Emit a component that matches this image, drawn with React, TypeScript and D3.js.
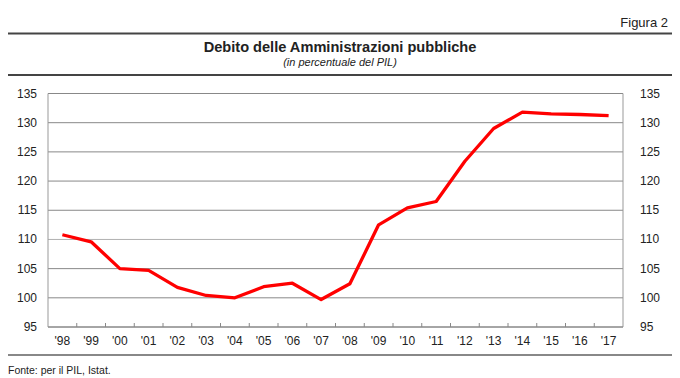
import React from "react";
import * as d3 from "d3";

const years = ["'98","'99","'00","'01","'02","'03","'04","'05","'06","'07","'08","'09","'10","'11","'12","'13","'14","'15","'16","'17"];
const debt = [110.8,109.6,105.0,104.7,101.8,100.4,100.0,101.9,102.5,99.7,102.4,112.5,115.4,116.5,123.4,129.0,131.8,131.5,131.4,131.2];
const yTicks = [95,100,105,110,115,120,125,130,135];

const W = 680, H = 378;
const M = { left: 48, right: 623, top: 93.5, bottom: 327 };
const FONT = "'Liberation Sans', Arial, sans-serif";

export default function App() {
  const x = d3.scaleBand<string>().domain(years).range([M.left, M.right]);
  const y = d3.scaleLinear().domain([95, 135]).range([M.bottom, M.top]);
  const line = d3.line<number>()
    .x((_, i) => (x(years[i]) as number) + x.bandwidth() / 2)
    .y((d) => y(d));
  const bounds = years.map((yr) => x(yr) as number).slice(1);

  return (
    <svg width={W} height={H} style={{ position: "absolute", left: 0, top: 0, background: "#fff" }} fontFamily={FONT}>
      <text x={668} y={27} textAnchor="end" fontSize={13} fill="#222">Figura 2</text>
      <line x1={8} x2={672} y1={33.5} y2={33.5} stroke="#444" strokeWidth={2} />
      <text x={340} y={52} textAnchor="middle" fontSize={14.6} fontWeight="bold" fill="#222">Debito delle Amministrazioni pubbliche</text>
      <text x={340} y={66} textAnchor="middle" fontSize={11} fontStyle="italic" fill="#222">(in percentuale del PIL)</text>
      <line x1={8} x2={672} y1={75} y2={75} stroke="#444" strokeWidth={2} />

      {yTicks.map((t) => (
        <g key={t}>
          <line x1={M.left} x2={M.right} y1={y(t)} y2={y(t)} stroke={t === 110 ? "#b0b0b0" : "#888"} strokeWidth={1} />
          <text x={37} y={y(t) + 4} textAnchor="end" fontSize={12} fill="#222">{t}</text>
          <text x={640} y={y(t) + 4} textAnchor="start" fontSize={12} fill="#222">{t}</text>
        </g>
      ))}
      <line x1={M.left} x2={M.left} y1={M.top} y2={M.bottom} stroke="#999" strokeWidth={1} />
      <line x1={M.right} x2={M.right} y1={M.top} y2={M.bottom} stroke="#999" strokeWidth={1} />
      <line x1={M.left} x2={M.right} y1={M.bottom} y2={M.bottom} stroke="#888" strokeWidth={1} />
      {bounds.map((b, i) => (
        <line key={i} x1={b} x2={b} y1={M.bottom} y2={M.bottom - 4} stroke="#888" strokeWidth={1} />
      ))}
      {years.map((yr) => (
        <text key={yr} x={(x(yr) as number) + x.bandwidth() / 2} y={345} textAnchor="middle" fontSize={12} fill="#222">{yr}</text>
      ))}

      <path d={line(debt) || ""} fill="none" stroke="#ff0000" strokeWidth={3.3} strokeLinejoin="round" />

      <line x1={8} x2={672} y1={355} y2={355} stroke="#888" strokeWidth={2} />
      <text x={8} y={374} fontSize={10.5} fill="#222">Fonte: per il PIL, Istat.</text>
    </svg>
  );
}
